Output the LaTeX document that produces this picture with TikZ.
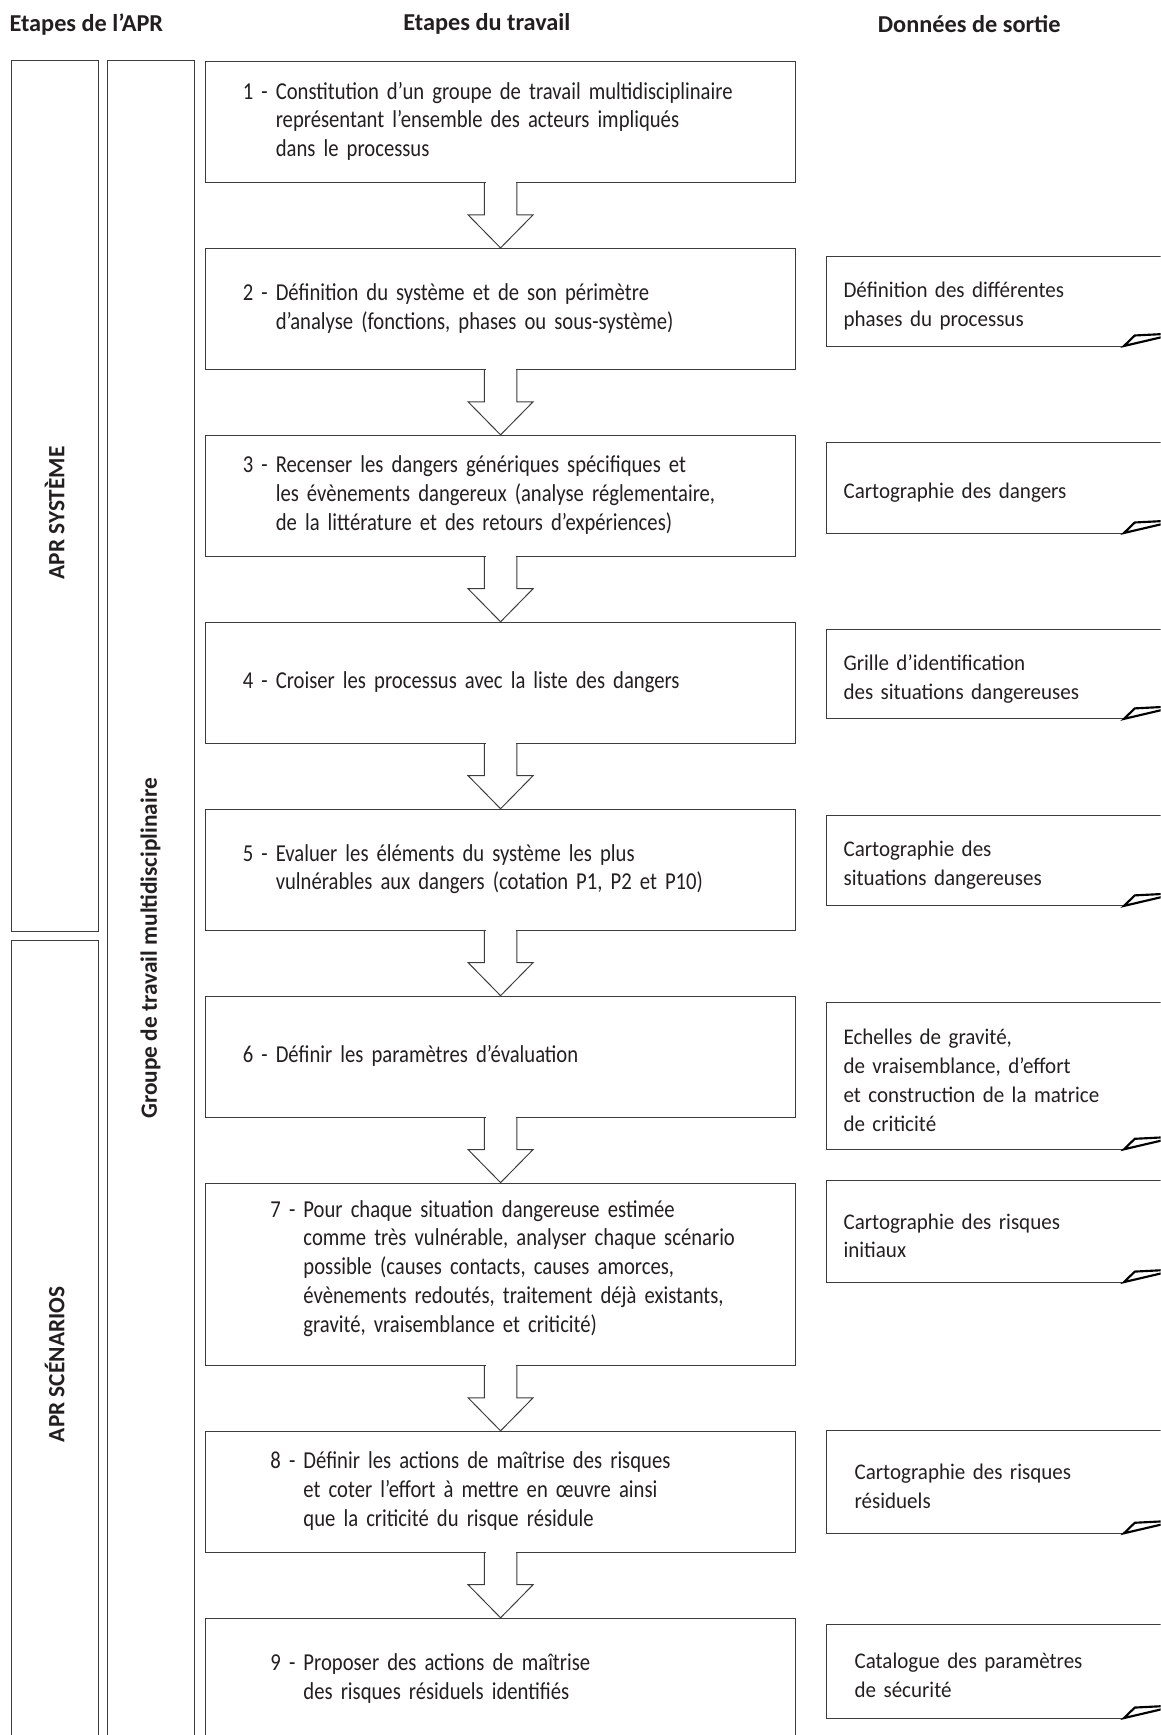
\documentclass[tikz,border=0pt]{standalone}
\usepackage{fontspec}
\setmainfont{Carlito}
\newfontfamily\etroit[FakeStretch=0.85,WordSpace=0.8]{Carlito}
\newfontfamily\sortiefont[FakeStretch=0.94]{Carlito}
\usetikzlibrary{positioning,calc}
\definecolor{trait}{RGB}{60,60,60}
\definecolor{encre}{RGB}{35,31,32}

% numero puis lignes alignees
\newcommand{\etape}[2]{#1 - \begin{tabular}[t]{@{}l@{}}#2\end{tabular}}
% fleche creuse entre deux etapes
\newcommand{\fleche}[2]{%
  \fill[white] ($(#1.south)+(-0.27cm,0.04cm)$) rectangle ($(#1.south)+(0.27cm,-0.3cm)$);
  \draw[trait,line width=0.5pt] ($(#1.south)+(-0.293cm,0)$) -- ++(0,-0.572cm) -- ++(-0.295cm,0)
    -- (#2.north) -- ($(#1.south)+(0.588cm,-0.572cm)$) -- ++(-0.295cm,0) -- ++(0,0.572cm);
}
% document de sortie avec coin plie
\newcommand{\cadre}[1]{%
  \draw[trait,line width=0.5pt] ($(#1.north east)+(0,0.08cm)$) -- ($(#1.north west)+(0,0.08cm)$)
    -- ($(#1.south west)+(0,0.08cm)$) -- ($(#1.south west)+(5.376cm,0.08cm)$) coordinate (#1-pli);
  \draw[line width=1.1pt,black] (#1-pli) -- ++(0.196cm,0.19cm) -- ($(#1-pli)+(0.984cm,0.23cm)$) -- cycle;
}

\tikzset{
  etapebox/.style={draw=trait,line width=0.5pt,anchor=north west,minimum height=2.192cm,
    text width=9.32cm,inner xsep=0.68cm,inner ysep=0pt,align=left,
    font=\etroit\fontsize{12.5}{14.8}\selectfont,text=encre},
  etapelarge/.style={etapebox,execute at begin node={\hspace*{0.5cm}}},
  sortie/.style={anchor=north west,yshift=-0.08cm,text width=5.6cm,inner xsep=0.3cm,inner ysep=0pt,
    align=left,font=\sortiefont\fontsize{11.5}{14.8}\selectfont,text=encre},
  sortielarge/.style={sortie,text width=5.2cm,inner xsep=0.5cm},
  colonne/.style={draw=trait,line width=0.5pt,minimum width=1.58cm,inner sep=0pt},
  etiquette/.style={rotate=90,font=\bfseries\fontsize{12}{14}\selectfont,text=encre},
  titre/.style={font=\bfseries\fontsize{12.5}{15}\selectfont,text=encre}
}

\begin{document}
\begin{tikzpicture}[x=0.02cm,y=-0.02cm]
  \useasboundingbox (0,0) rectangle (1049,1568);
  \clip (0,0) rectangle (1049,1568);

  % titres
  \node[titre] (t1) at (78,22) {Etapes de l’APR};
  \node[titre] (t2) at (440,22) {Etapes du travail};
  \node[titre] (t3) at (876,22) {Données de sortie};

  % colonnes de gauche
  \node[colonne,minimum height=15.75cm] (sys) at (49.5,448.25) {};
  \node[colonne,minimum height=15.32cm] (scen) at (49.5,1233) {};
  \node[colonne,minimum height=32.09cm,minimum width=1.576cm] (grp) at (136.1,857) {};
  \node[etiquette] (sys-t) at (49.5,463.5) {APR SYSTÈME};
  \node[etiquette] (scen-t) at (49.5,1233) {APR SCÉNARIOS};
  \node[etiquette] (grp-t) at (136.1,857) {Groupe de travail multidisciplinaire};

  % etapes du travail
  \node[etapebox] (e1) at (185,55.1) {\etape{1}{Constitution d’un groupe de travail multidisciplinaire\\
    représentant l’ensemble des acteurs impliqués\\ dans le processus}};
  \node[etapebox,below=1.17cm of e1] (e2) {\etape{2}{Définition du système et de son périmètre\\
    d’analyse (fonctions, phases ou sous-système)}};
  \node[etapebox,below=1.17cm of e2] (e3) {\etape{3}{Recenser les dangers génériques spécifiques et\\
    les évènements dangereux (analyse réglementaire,\\ de la littérature et des retours d’expériences)}};
  \node[etapebox,below=1.17cm of e3] (e4) {\etape{4}{Croiser les processus avec la liste des dangers}};
  \node[etapebox,below=1.17cm of e4] (e5) {\etape{5}{Evaluer les éléments du système les plus\\
    vulnérables aux dangers (cotation P1, P2 et P10)}};
  \node[etapebox,below=1.17cm of e5] (e6) {\etape{6}{Définir les paramètres d’évaluation}};
  \node[etapelarge,minimum height=3.3cm,below=1.17cm of e6,execute at end node={\par\vspace*{0.2cm}}] (e7)
    {\etape{7}{Pour chaque situation dangereuse estimée\\
    comme très vulnérable, analyser chaque scénario\\ possible (causes contacts, causes amorces,\\
    évènements redoutés, traitement déjà existants,\\ gravité, vraisemblance et criticité)}};
  \node[etapelarge,below=1.17cm of e7] (e8) {\etape{8}{Définir les actions de maîtrise des risques\\
    et coter l’effort à mettre en œuvre ainsi\\ que la criticité du risque résidule}};
  \node[etapelarge,below=1.17cm of e8] (e9) {\etape{9}{Proposer des actions de maîtrise\\
    des risques résiduels identifiés}};

  \foreach \a/\b in {e1/e2,e2/e3,e3/e4,e4/e5,e5/e6,e6/e7,e7/e8,e8/e9}
    \fleche{\a}{\b};

  % donnees de sortie
  \node[sortie,minimum height=1.6cm] (s2) at (747,232) {Définition des différentes\\phases du processus};
  \node[sortie,minimum height=1.62cm] (s3) at (747,400) {Cartographie des dangers};
  \node[sortie,minimum height=1.6cm] (s4) at (747,569) {Grille d’identification\\des situations dangereuses};
  \node[sortie,minimum height=1.62cm] (s5) at (747,737) {Cartographie des\\situations dangereuses};
  \node[sortie,minimum height=2.64cm] (s6) at (747,906) {Echelles de gravité,\\de vraisemblance, d’effort\\et construction de la matrice\\de criticité};
  \node[sortie,minimum height=1.82cm] (s7) at (747,1067) {Cartographie des risques\\initiaux};
  \node[sortielarge,minimum height=1.84cm] (s8) at (747,1293) {Cartographie des risques\\résiduels};
  \node[sortielarge,minimum height=1.68cm] (s9) at (747,1468) {Catalogue des paramètres\\de sécurité};

  \foreach \s in {s2,s3,s4,s5,s6,s7,s8,s9}
    \cadre{\s};
\end{tikzpicture}
\end{document}
